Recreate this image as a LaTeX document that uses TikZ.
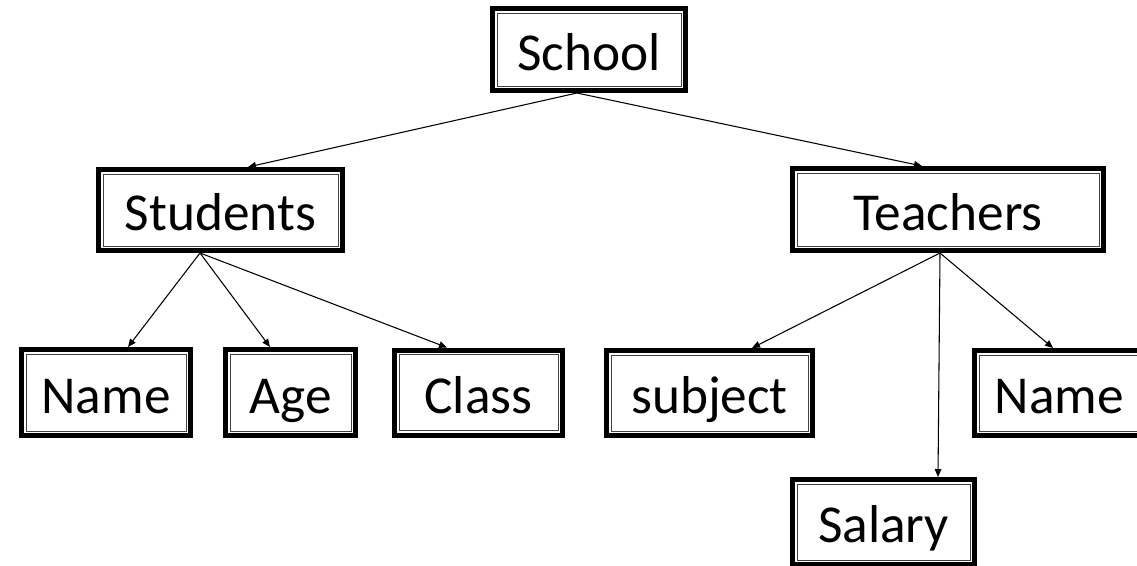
\documentclass[tikz,border=0pt]{standalone}
\usepackage{fontspec}
\setmainfont{Carlito}
\usetikzlibrary{arrows.meta}

\tikzset{
  % entity box: heavy outer frame, thin inner frame
  entity/.style={
    draw=black, line width=3.75pt, fill=white,
    inner sep=0pt, outer sep=1.875pt,
    font=\fontsize{40}{46}\selectfont,
    text height=31pt, text depth=0pt
  },
  inframe/.style={draw=black!75, line width=0.75pt},
  link/.style={draw=black, line width=0.8pt, -{Triangle[length=6pt,width=5pt]}}
}

% \entbox{name}{x}{y}{width}{height}{text}  (pixel units, outer frame size)
\newcommand{\entbox}[6]{%
  \node[entity, minimum width={(#4-5)*0.75pt}, minimum height={(#5-5)*0.75pt}]
    (#1) at (#2,#3) {#6};
  \draw[inframe] ([shift={(7,7)}]#1.north west) rectangle ([shift={(-7,-7)}]#1.south east);
}

\begin{document}
\begin{tikzpicture}[x=0.75pt,y=-0.75pt]
  \useasboundingbox (0,0) rectangle (1137,565);
  \clip (0,0) rectangle (1137,565);

  % boxes
  \entbox{school}{589}{49.5}{198}{87}{School}
  \entbox{students}{220.5}{210}{249}{86}{Students}
  \entbox{teachers}{948}{209.5}{316}{87}{Teachers}
  \entbox{sname}{106}{392.5}{174}{91}{Name}
  \entbox{age}{290.5}{392.5}{135}{91}{Age}
  \entbox{class}{478.5}{392.5}{173}{90}{Class}
  \entbox{subject}{709.5}{393}{211}{90}{subject}
  \entbox{tname}{1059.5}{393}{175}{90}{Name}
  \entbox{salary}{883.5}{522}{187}{90}{Salary}

  % connectors
  \draw[link] ([shift={(-12,0)}]school.south) -- ([shift={(27.5,0)}]students.north);
  \draw[link] ([shift={(-12,0)}]school.south) -- ([shift={(-26,0)}]teachers.north);

  \draw[link] ([shift={(-20.5,0)}]students.south) -- ([shift={(22,0)}]sname.north);
  \draw[link] ([shift={(-20.5,0)}]students.south) -- ([shift={(-20.5,0)}]age.north);
  \draw[link] ([shift={(-20.5,0)}]students.south) -- ([shift={(-31.5,0)}]class.north);

  \draw[link] ([shift={(-8,0)}]teachers.south) -- ([shift={(42.5,0)}]subject.north);
  \draw[link] ([shift={(-8,0)}]teachers.south) -- ([shift={(54.5,0)}]salary.north);
  \draw[link] ([shift={(-8,0)}]teachers.south) -- ([shift={(-6.5,0)}]tname.north);
\end{tikzpicture}
\end{document}
